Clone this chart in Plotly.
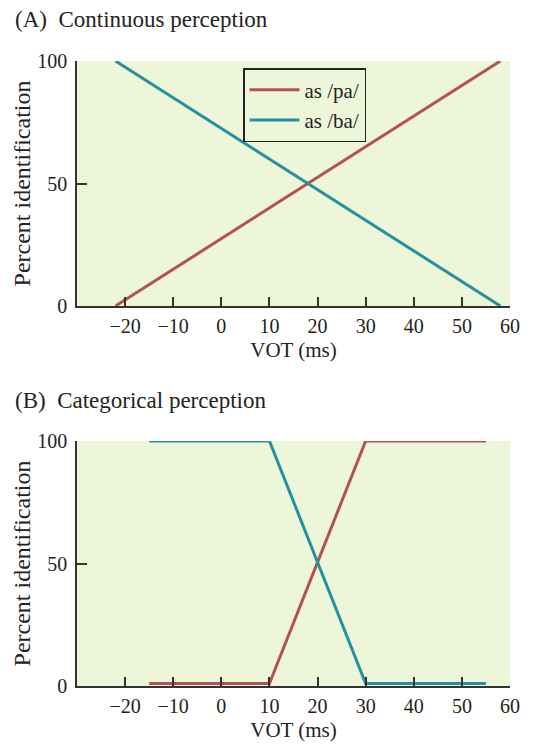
import plotly.graph_objects as go

# Panel A: continuous perception
a_vot = [-22, 58]
a_pa = [0, 100]
a_ba = [100, 0]

# Panel B: categorical perception
b_vot = [-15, 10, 30, 55]
b_pa = [1, 1, 100, 100]
b_ba = [100, 100, 1, 1]

x_ticks = [-20, -10, 0, 10, 20, 30, 40, 50, 60]
x_labels = ["\u221220", "\u221210", "0", "10", "20", "30", "40", "50", "60"]
y_ticks = [0, 50, 100]

RED = "#b4524f"
TEAL = "#2690a3"
BG = "#eef6da"
FONT = "Liberation Serif"
# page body adds an 8px margin, so the figure is 8px smaller than the window
W, H = 525, 736

fig = go.Figure()
fig.add_trace(go.Scatter(x=a_vot, y=a_pa, mode="lines", name="as /pa/",
                         line=dict(color=RED, width=3), xaxis="x", yaxis="y"))
fig.add_trace(go.Scatter(x=a_vot, y=a_ba, mode="lines", name="as /ba/",
                         line=dict(color=TEAL, width=3), xaxis="x", yaxis="y"))
fig.add_trace(go.Scatter(x=b_vot, y=b_pa, mode="lines", name="as /pa/", showlegend=False,
                         line=dict(color=RED, width=3), xaxis="x2", yaxis="y2"))
fig.add_trace(go.Scatter(x=b_vot, y=b_ba, mode="lines", name="as /ba/", showlegend=False,
                         line=dict(color=TEAL, width=3), xaxis="x2", yaxis="y2"))

xdom = [69 / W, 502 / W]
ydomA = [1 - 298 / H, 1 - 53 / H]
ydomB = [1 - 678 / H, 1 - 433 / H]

def xaxis(anchor, dom):
    return dict(domain=dom, anchor=anchor, range=[-30, 60], tickvals=x_ticks, ticktext=x_labels,
                ticks="inside", ticklen=9, tickwidth=1.5, tickcolor="#333", automargin=False,
                showline=True, linecolor="#333", linewidth=1.5, showgrid=False, zeroline=False,
                ticklabelstandoff=1, tickfont=dict(family=FONT, size=20, color="#222"),
                title=dict(text="VOT (ms)", font=dict(family=FONT, size=21, color="#222"), standoff=7))

def yaxis(anchor, dom):
    return dict(domain=dom, anchor=anchor, range=[0, 100], tickvals=y_ticks,
                ticks="inside", ticklen=10, tickwidth=1.5, tickcolor="#333", automargin=False,
                showline=True, linecolor="#333", linewidth=1.5, showgrid=False, zeroline=False,
                ticklabelstandoff=4, tickfont=dict(family=FONT, size=20, color="#222"),
                title=dict(text="Percent identification", font=dict(family=FONT, size=24, color="#222"), standoff=0))

fig.update_layout(
    width=W, height=H,
    margin=dict(l=0, r=0, t=0, b=0, autoexpand=False),
    paper_bgcolor="white",
    plot_bgcolor=BG,
    xaxis=xaxis("y", xdom),
    yaxis=yaxis("x", ydomA),
    xaxis2=xaxis("y2", xdom),
    yaxis2=yaxis("x2", ydomB),
    legend=dict(x=235 / W, y=1 - 60 / H, xanchor="left", yanchor="top",
                bgcolor=BG, bordercolor="#222", borderwidth=1.5,
                font=dict(family=FONT, size=21, color="#222"),
                tracegroupgap=0, itemwidth=50),
    annotations=[
        dict(text="(A)  Continuous perception", x=5 / W, y=1 - 11 / H, xref="paper", yref="paper",
             xanchor="left", yanchor="middle", showarrow=False,
             font=dict(family=FONT, size=23, color="#222")),
        dict(text="(B)  Categorical perception", x=5 / W, y=1 - 392 / H, xref="paper", yref="paper",
             xanchor="left", yanchor="middle", showarrow=False,
             font=dict(family=FONT, size=23, color="#222")),
    ],
)

fig.write_html("out.html")
